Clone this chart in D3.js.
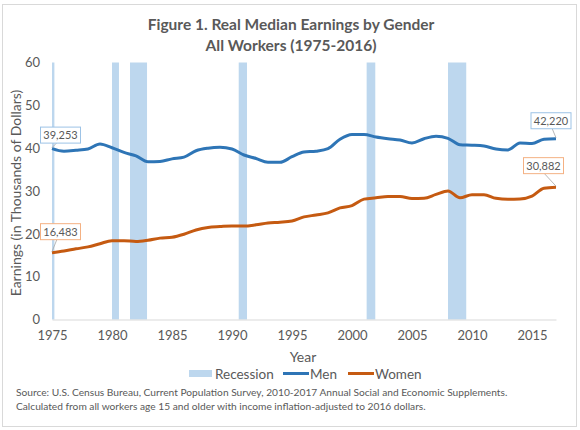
<!DOCTYPE html>
<html>
  <head>
    <title>Real Median Earnings by Gender</title>
    <style>
      body { margin: 0; background: #fff; }
      text { font-family: Lato, "Open Sans", sans-serif; fill: #595959; }
    </style>
  </head>
  <body>
    <script src="https://d3js.org/d3.v7.min.js"></script>
    <script>
      // Data (thousands of 2016 dollars); 2013 appears twice, as in the CPS tables
      const years = [1975, 1976, 1977, 1978, 1979, 1980, 1981, 1982, 1983, 1984,
        1985, 1986, 1987, 1988, 1989, 1990, 1991, 1992, 1993, 1994,
        1995, 1996, 1997, 1998, 1999, 2000, 2001, 2002, 2003, 2004,
        2005, 2006, 2007, 2008, 2009, 2010, 2011, 2012, 2013, 2013,
        2014, 2015, 2016];
      const men = [39.9, 39.3, 39.5, 39.8, 41.0, 40.1, 39.0, 38.2, 36.8, 36.9,
        37.5, 37.9, 39.4, 40.0, 40.2, 39.8, 38.4, 37.6, 36.7, 36.7,
        38.0, 39.1, 39.3, 39.9, 42.1, 43.2, 43.2, 42.6, 42.2, 41.9,
        41.2, 42.2, 42.8, 42.3, 40.8, 40.7, 40.5, 39.8, 39.6, 41.2,
        41.1, 42.1, 42.2];
      const women = [15.6, 16.0, 16.5, 16.95, 17.7, 18.4, 18.4, 18.2, 18.5, 19.0,
        19.2, 19.9, 20.9, 21.5, 21.7, 21.85, 21.8, 22.1, 22.55, 22.7,
        23.0, 23.95, 24.4, 24.9, 26.05, 26.6, 28.1, 28.4, 28.7, 28.7,
        28.25, 28.3, 29.2, 30.0, 28.4, 29.15, 29.15, 28.3, 28.1, 28.15,
        28.8, 30.65, 30.9];
      // Recessions as fractional years [start, end]
      const recessions = [[1975.0, 1975.2], [1980.0, 1980.58], [1981.5, 1982.92],
        [1990.56, 1991.25], [2001.22, 2001.94], [2008.0, 2009.52]];
      const xTicks = [1975, 1980, 1985, 1990, 1995, 2000, 2005, 2010, 2015];
      const yTicks = [0, 10, 20, 30, 40, 50, 60];
      const endLabels = [
        { series: "men", idx: 0, text: "39,253" },
        { series: "women", idx: 0, text: "16,483" },
        { series: "men", idx: 42, text: "42,220" },
        { series: "women", idx: 42, text: "30,882" }
      ];

      const W = 580, H = 430;
      const svg = d3.select("body").append("svg")
        .attr("width", W)
        .attr("height", H);

      // chart frame
      svg.append("rect")
        .attr("x", 2.5).attr("y", 4.5)
        .attr("width", 574).attr("height", 422)
        .attr("fill", "#fff")
        .attr("stroke", "#d9d9d9");

      // title
      svg.append("text")
        .attr("x", 291).attr("y", 30)
        .attr("text-anchor", "middle")
        .attr("font-size", 15.5).attr("font-weight", "bold")
        .text("Figure 1. Real Median Earnings by Gender");
      svg.append("text")
        .attr("x", 291).attr("y", 50.5)
        .attr("text-anchor", "middle")
        .attr("font-size", 15.5).attr("font-weight", "bold")
        .text("All Workers (1975-2016)");

      const x = d3.scaleLinear().domain([1975, 2017]).range([52, 556]);
      const y = d3.scaleLinear().domain([0, 60]).range([319.5, 62.5]);
      // each observation sits one step after the previous one
      const xPos = i => x(years[0] + i);

      // recession bars
      svg.append("g").selectAll("rect")
        .data(recessions)
        .join("rect")
        .attr("x", d => x(d[0]))
        .attr("width", d => x(d[1]) - x(d[0]))
        .attr("y", y(60))
        .attr("height", y(0) - y(60))
        .attr("fill", "#bdd7ee");

      // axes
      const yAxis = svg.append("g")
        .attr("transform", "translate(40,0)")
        .call(d3.axisLeft(y).tickValues(yTicks).tickSize(0).tickPadding(0));
      yAxis.select(".domain").remove();
      yAxis.selectAll("text")
        .attr("font-size", 13).attr("fill", "#595959")
        .style("font-family", "Lato, sans-serif");

      const xAxis = svg.append("g")
        .attr("transform", `translate(0,${y(0)})`)
        .call(d3.axisBottom(x).tickValues(xTicks).tickFormat(d3.format("d")).tickSize(0).tickPadding(11));
      xAxis.select(".domain").attr("stroke", "#d9d9d9");
      xAxis.selectAll("text")
        .attr("font-size", 13).attr("fill", "#595959")
        .style("font-family", "Lato, sans-serif");

      // axis titles
      svg.append("text")
        .attr("transform", "translate(21,193) rotate(-90)")
        .attr("text-anchor", "middle")
        .attr("font-size", 14)
        .text("Earnings (in Thousands of Dollars)");
      svg.append("text")
        .attr("x", 303).attr("y", 362)
        .attr("text-anchor", "middle")
        .attr("font-size", 14)
        .text("Year");

      // lines
      const line = d3.line()
        .x((d, i) => xPos(i))
        .y(d => y(d))
        .curve(d3.curveMonotoneX);
      const colors = { men: "#2e75b6", women: "#c55a11" };
      const seriesData = { men: men, women: women };
      ["men", "women"].forEach(k => {
        svg.append("path")
          .datum(seriesData[k])
          .attr("fill", "none")
          .attr("stroke", colors[k])
          .attr("stroke-width", 3)
          .attr("stroke-linejoin", "round")
          .attr("d", line);
      });

      // data labels with leader lines
      const boxBorder = { men: "#9dc3e6", women: "#f4b183" };
      endLabels.forEach(l => {
        const px = xPos(l.idx), py = y(seriesData[l.series][l.idx]);
        let bx, by;
        if (l.idx === 0) { bx = 40; by = py - (l.series === "men" ? 22 : 29.5); }
        else { bx = l.series === "men" ? 530.5 : 523; by = py - (l.series === "men" ? 26.5 : 30); }
        const bw = 40, bh = 16;
        const lx = l.idx === 0 ? px + 5 : px - (l.series === "men" ? 4 : 12);
        svg.append("line")
          .attr("x1", lx).attr("y1", by + bh)
          .attr("x2", px).attr("y2", py - 1)
          .attr("stroke", "#a6a6a6").attr("stroke-width", 0.8);
        svg.append("rect")
          .attr("x", bx + 0.5).attr("y", by + 0.5)
          .attr("width", bw).attr("height", bh)
          .attr("fill", "#fff")
          .attr("stroke", boxBorder[l.series]);
        svg.append("text")
          .attr("x", bx + 0.5 + bw / 2).attr("y", by + 12.5)
          .attr("text-anchor", "middle")
          .attr("font-size", 11)
          .attr("fill", "#404040")
          .text(l.text);
      });

      // legend
      const lg = svg.append("g").attr("font-size", 13.5);
      lg.append("rect").attr("x", 189).attr("y", 370).attr("width", 23).attr("height", 7).attr("fill", "#bdd7ee");
      lg.append("text").attr("x", 215).attr("y", 378.5).text("Recession");
      lg.append("line").attr("x1", 283).attr("x2", 309).attr("y1", 373.5).attr("y2", 373.5)
        .attr("stroke", colors.men).attr("stroke-width", 3);
      lg.append("text").attr("x", 310).attr("y", 378.5).text("Men");
      lg.append("line").attr("x1", 348).attr("x2", 374).attr("y1", 373.5).attr("y2", 373.5)
        .attr("stroke", colors.women).attr("stroke-width", 3);
      lg.append("text").attr("x", 375).attr("y", 378.5).text("Women");

      // source note
      const note = svg.append("g").attr("font-size", 10.2);
      note.append("text").attr("x", 16).attr("y", 395.5).attr("fill", "#262626")
        .text("Source: U.S. Census Bureau, Current Population Survey, 2010-2017 Annual Social and Economic Supplements.");
      note.append("text").attr("x", 16).attr("y", 409.5).attr("fill", "#262626")
        .text("Calculated from all workers age 15 and older with income inflation-adjusted to 2016 dollars.");
    </script>
  </body>
</html>
